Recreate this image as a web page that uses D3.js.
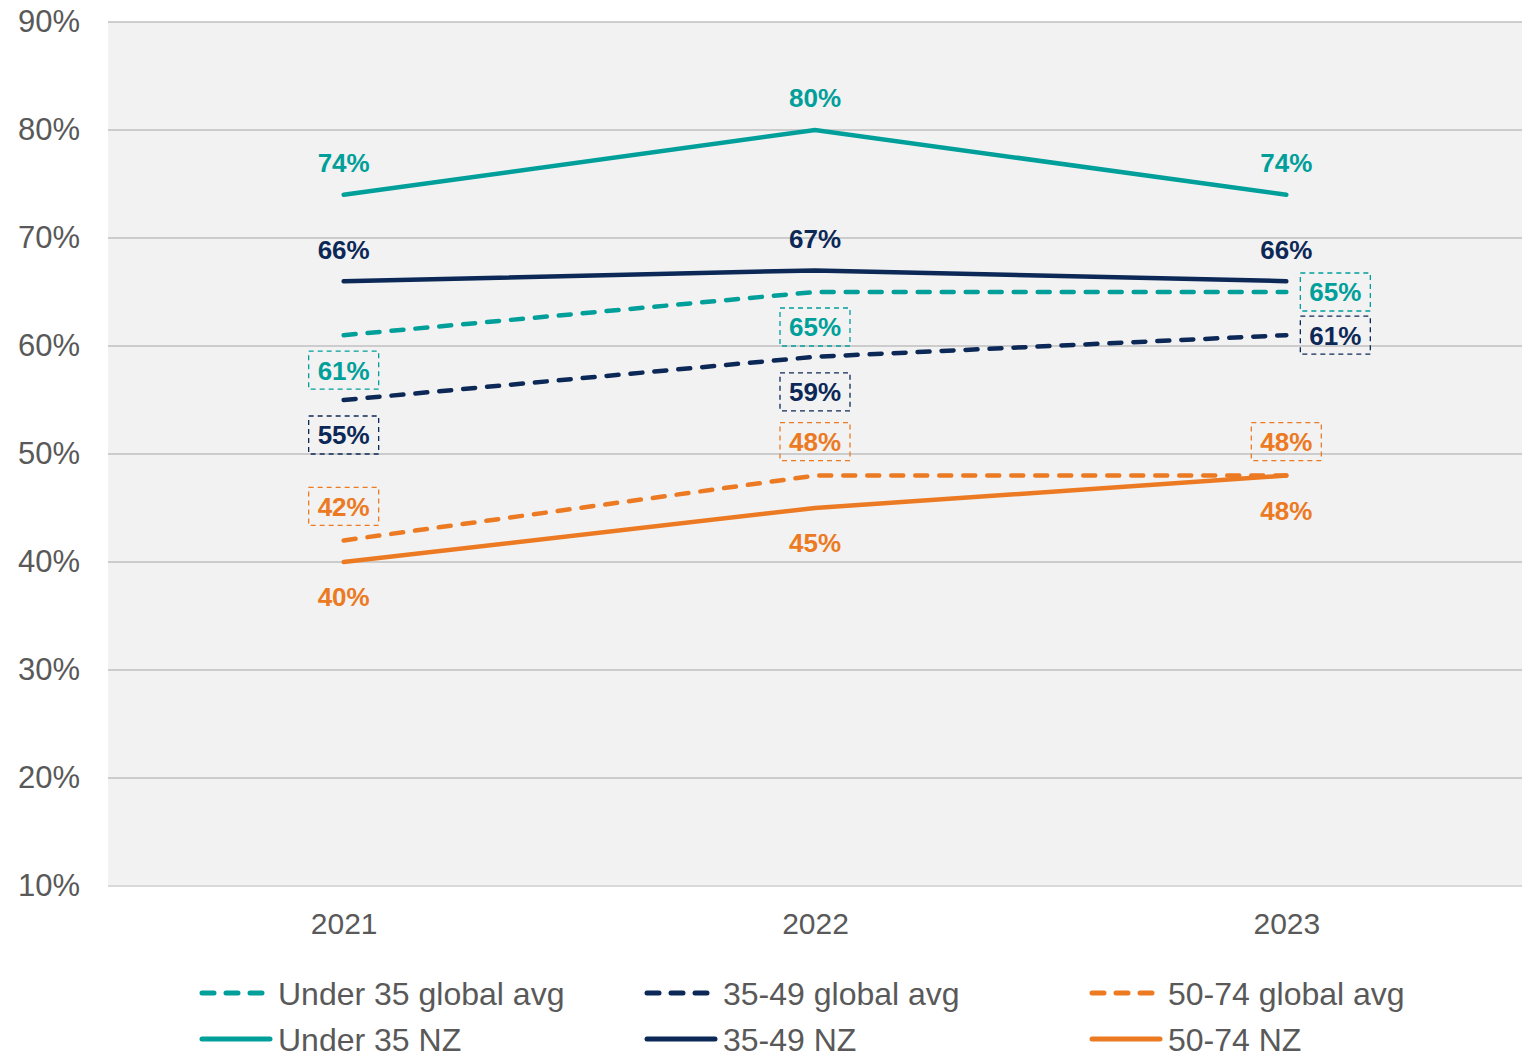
<!DOCTYPE html>
<html>
<head>
<meta charset="utf-8">
<script src="https://cdn.jsdelivr.net/npm/d3@7"></script>
<style>
  body { margin: 0; background: #fff; }
  svg { display: block; font-family: "Liberation Sans", Arial, sans-serif; }
</style>
</head>
<body>
<div class="chart"></div>
<script>
// data
const years = ["2021", "2022", "2023"];
const yTicks = [0.1, 0.2, 0.3, 0.4, 0.5, 0.6, 0.7, 0.8, 0.9];

const under35Global = [0.61, 0.65, 0.65];
const mid3549Global = [0.55, 0.59, 0.61];
const old5074Global = [0.42, 0.48, 0.48];
const under35NZ = [0.74, 0.80, 0.74];
const mid3549NZ = [0.66, 0.67, 0.66];
const old5074NZ = [0.40, 0.45, 0.48];

const teal = "#009f9a", navy = "#0c2857", orange = "#ec7a23";

// series config (label placement per point kept separate from values)
const series = [
  { name: "Under 35 global avg", values: under35Global, color: teal, dashed: true, place: ["below", "below", "right"] },
  { name: "35-49 global avg", values: mid3549Global, color: navy, dashed: true, place: ["below", "below", "right"] },
  { name: "50-74 global avg", values: old5074Global, color: orange, dashed: true, place: ["above", "above", "above"] },
  { name: "Under 35 NZ", values: under35NZ, color: teal, dashed: false, place: ["above", "above", "above"] },
  { name: "35-49 NZ", values: mid3549NZ, color: navy, dashed: false, place: ["above", "above", "above"] },
  { name: "50-74 NZ", values: old5074NZ, color: orange, dashed: false, place: ["below", "below", "below"] }
];

const W = 1522, H = 1058;
const plot = { left: 108, right: 1522, top: 22, bottom: 886 };

const svg = d3.select(".chart").append("svg")
  .attr("width", W).attr("height", H);

const x = d3.scalePoint().domain(years).range([plot.left, plot.right]).padding(0.5);
const y = d3.scaleLinear().domain([0.1, 0.9]).range([plot.bottom, plot.top]);

// background
svg.append("rect")
  .attr("x", plot.left).attr("y", plot.top)
  .attr("width", plot.right - plot.left).attr("height", plot.bottom - plot.top)
  .attr("fill", "#f2f2f2");

// grid
svg.append("g").selectAll("line")
  .data(yTicks.filter(d => d > 0.1))
  .join("line")
  .attr("x1", plot.left).attr("x2", plot.right)
  .attr("y1", d => y(d)).attr("y2", d => y(d))
  .attr("stroke", "#bfbfbf").attr("stroke-width", 1.5);

svg.append("line")
  .attr("x1", plot.left).attr("x2", plot.right)
  .attr("y1", y(0.1)).attr("y2", y(0.1))
  .attr("stroke", "#d9d9d9").attr("stroke-width", 2);

// y axis
const yAxis = d3.axisLeft(y).tickValues(yTicks).tickFormat(d3.format(".0%")).tickSize(0).tickPadding(28);
const yg = svg.append("g").attr("transform", "translate(" + plot.left + ",0)").call(yAxis);
yg.select(".domain").remove();
yg.selectAll("text").attr("font-size", 31).attr("fill", "#595959")
  .attr("font-family", "Liberation Sans, Arial, sans-serif");

// x axis
const xAxis = d3.axisBottom(x).tickSize(0).tickPadding(27);
const xg = svg.append("g").attr("transform", "translate(0," + plot.bottom + ")").call(xAxis);
xg.select(".domain").remove();
xg.selectAll("text").attr("font-size", 30).attr("fill", "#595959")
  .attr("font-family", "Liberation Sans, Arial, sans-serif");

// lines
const line = d3.line().x((d, i) => x(years[i])).y(d => y(d));

series.forEach(s => {
  svg.append("path")
    .datum(s.values)
    .attr("d", line)
    .attr("fill", "none")
    .attr("stroke", s.color)
    .attr("stroke-width", 4.5)
    .attr("stroke-linecap", "round")
    .attr("stroke-dasharray", s.dashed ? "12,12" : null);
});

// labels
const fmt = d3.format(".0%");
series.forEach(s => {
  s.values.forEach((v, i) => {
    let cx = x(years[i]), cy = y(v);
    const p = s.place[i];
    if (p === "above") cy -= s.dashed ? 34 : 32;
    else if (p === "below") cy += 35;
    else if (p === "right") { cx += 49; }

    if (s.dashed) {
      svg.append("rect")
        .attr("x", cx - 35).attr("y", cy - 19)
        .attr("width", 70).attr("height", 38)
        .attr("fill", "none")
        .attr("stroke", s.color)
        .attr("stroke-width", 1.3)
        .attr("stroke-dasharray", "5,4");
    }
    svg.append("text")
      .attr("x", cx).attr("y", cy)
      .attr("dy", "0.36em")
      .attr("text-anchor", "middle")
      .attr("font-size", 26)
      .attr("font-weight", "bold")
      .attr("fill", s.color)
      .text(fmt(v));
  });
});

// legend
const legendCols = [200, 645, 1090];
const legendRows = [993, 1039];
series.forEach((s, k) => {
  const col = k % 3, row = Math.floor(k / 3);
  const lx = legendCols[col], ly = legendRows[row];
  const g = svg.append("g").attr("transform", "translate(" + lx + "," + ly + ")");
  if (s.dashed) {
    g.append("line")
      .attr("x1", 2).attr("x2", 62).attr("y1", 0).attr("y2", 0)
      .attr("stroke", s.color).attr("stroke-width", 5)
      .attr("stroke-linecap", "round")
      .attr("stroke-dasharray", "12,12");
  } else {
    g.append("line")
      .attr("x1", 2).attr("x2", 70).attr("y1", 0).attr("y2", 0)
      .attr("stroke", s.color).attr("stroke-width", 5)
      .attr("stroke-linecap", "round");
  }
  g.append("text")
    .attr("x", 78).attr("y", 0).attr("dy", "0.36em")
    .attr("font-size", 32)
    .attr("fill", "#595959")
    .text(s.name);
});
</script>
</body>
</html>
